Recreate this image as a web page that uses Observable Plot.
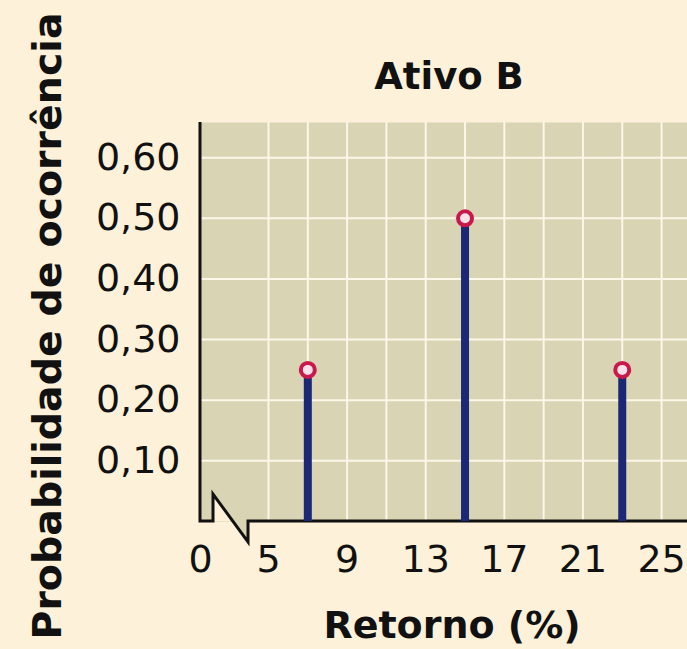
<!DOCTYPE html>
<html>
<head>
<meta charset="utf-8">
<script src="https://cdn.jsdelivr.net/npm/d3@7"></script>
<script src="https://cdn.jsdelivr.net/npm/@observablehq/plot@0.6"></script>
<style>
  html, body { margin: 0; padding: 0; background: #fdf1d9; }
  #chart svg { display: block; }
</style>
</head>
<body>
<div id="chart"></div>
<script>
// Distribution of returns for asset B
const returns = [7, 15, 23];              // retorno (%)
const probabilities = [0.25, 0.50, 0.25]; // probabilidade de ocorrência

const xTickValues = [5, 9, 13, 17, 21, 25];
const xGridValues = [5, 7, 9, 11, 13, 15, 17, 19, 21, 23, 25];
const yTickValues = [0.10, 0.20, 0.30, 0.40, 0.50, 0.60];
const originLabel = "0";

const title = "Ativo B";
const xLabel = "Retorno (%)";
const yLabel = "Probabilidade de ocorrência";

const data = returns.map((r, i) => ({ret: r, prob: probabilities[i]}));

// The x axis is broken between 0 and 5, so the scale starts just below 5
const xDomain = [1.54, 26.32];
const yDomain = [0, 0.658];

const bg = "#fdf1d9";
const tan = "#d8d4b4";
const gridColor = "#fbf7e9";
const navy = "#1b2876";
const crimson = "#c8184c";
const ink = "#111";

// Axis lines with the zig-zag break marker at the origin
function axisBreak(index, {x, y}) {
  const x0 = x(xDomain[0]), x1 = x(xDomain[1]);
  const y0 = y(0), yTop = y(yDomain[1]);
  const g = d3.create("svg:g");
  g.append("path")
    .attr("d", `M${x0 + 13},${y0} L${x0 + 13},${y0 - 27} L${x0 + 32.7},${y0} Z`)
    .attr("fill", bg);
  g.append("path")
    .attr("d", `M${x0 + 32.7},${y0} L${x0 + 48},${y0 + 21} L${x0 + 48},${y0} Z`)
    .attr("fill", tan);
  g.append("path")
    .attr("d", `M${x0},${yTop} V${y0} H${x0 + 13} V${y0 - 27} L${x0 + 48},${y0 + 21} V${y0} H${x1}`)
    .attr("fill", "none")
    .attr("stroke", ink)
    .attr("stroke-width", 3)
    .attr("stroke-linejoin", "miter");
  return g.node();
}

const font = "'DejaVu Sans', sans-serif";

const chart = Plot.plot({
  width: 687,
  height: 649,
  marginTop: 122,
  marginBottom: 128,
  marginLeft: 200,
  marginRight: 0,
  style: {background: "transparent", fontFamily: font, color: ink},
  x: {domain: xDomain},
  y: {domain: yDomain},
  marks: [
    Plot.frame({fill: tan, stroke: "none"}),
    Plot.gridX(xGridValues, {stroke: gridColor, strokeOpacity: 1, strokeWidth: 2}),
    Plot.gridY(yTickValues, {stroke: gridColor, strokeOpacity: 1, strokeWidth: 2}),
    axisBreak,
    Plot.ruleX(data, {x: "ret", y1: 0, y2: "prob", stroke: navy, strokeWidth: 8}),
    Plot.dot(data, {x: "ret", y: "prob", r: 7, stroke: crimson, strokeWidth: 4, fill: "#fbe1e8"}),
    Plot.axisX([xDomain[0], ...xTickValues], {
      tickSize: 0, tickPadding: 24, fontSize: 38, label: null,
      tickFormat: (d) => d === xDomain[0] ? originLabel : String(d)
    }),
    Plot.axisY(yTickValues, {
      tickSize: 0, tickPadding: 20, fontSize: 38, label: null,
      tickFormat: (d) => d.toFixed(2).replace(".", ",")
    }),
    Plot.text([title], {
      frameAnchor: "top", lineAnchor: "middle", textAnchor: "middle",
      dy: -45, dx: 5, fontSize: 37, fontWeight: "bold", fill: ink
    }),
    Plot.text([xLabel], {
      frameAnchor: "bottom", lineAnchor: "middle", textAnchor: "middle",
      dy: 104, dx: 8, fontSize: 38, fontWeight: "bold", fill: ink
    }),
    Plot.text([yLabel], {
      frameAnchor: "left", lineAnchor: "middle", textAnchor: "middle",
      dx: -152, dy: 4, rotate: -90, fontSize: 39.5, fontWeight: "bold", fill: ink
    })
  ]
});

document.getElementById("chart").append(chart);
</script>
</body>
</html>
